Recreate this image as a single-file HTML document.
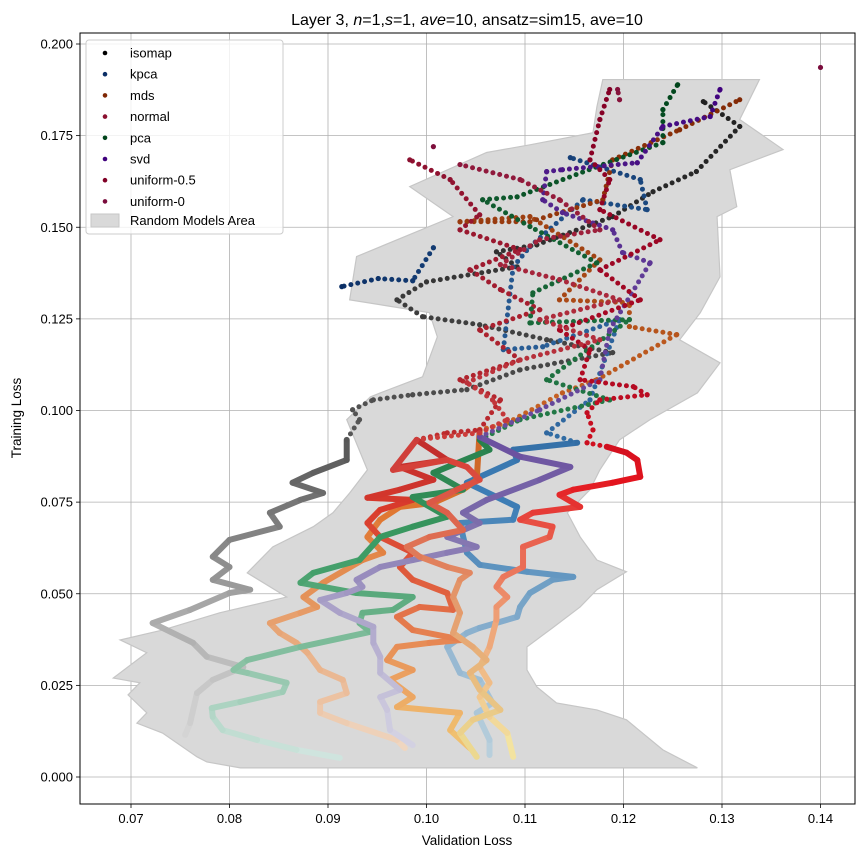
<!DOCTYPE html>
<html><head><meta charset="utf-8">
<style>
html,body{margin:0;padding:0;background:#fff;}
svg{display:block;font-family:"Liberation Sans","DejaVu Sans",sans-serif;}
</style></head>
<body>
<svg id="chart" width="863" height="857" viewBox="0 0 863 857">
<rect x="0" y="0" width="863" height="857" fill="#fff"/>
<g id="gridg"></g>
<g id="areag"></g>
<g id="seriesg"></g>
<rect x="80" y="33" width="775" height="771" fill="none" stroke="#000" stroke-width="1"/>
<g id="ticksg"></g>
<text x="467" y="25" text-anchor="middle" font-size="16">Layer 3, <tspan font-style="italic">n</tspan>=1,<tspan font-style="italic">s</tspan>=1, <tspan font-style="italic">ave</tspan>=10, ansatz=sim15, ave=10</text>
<text x="467" y="845" text-anchor="middle" font-size="13.5">Validation Loss</text>
<text x="21" y="418" text-anchor="middle" font-size="13.5" transform="rotate(-90 21 418)">Training Loss</text>
<g id="legendg"></g>
</svg>
<script>
const NS="http://www.w3.org/2000/svg";
const xTicks=[0.07,0.08,0.09,0.10,0.11,0.12,0.13,0.14];
const xTickLabels=["0.07","0.08","0.09","0.10","0.11","0.12","0.13","0.14"];
const yTicks=[0,0.025,0.05,0.075,0.1,0.125,0.15,0.175,0.2];
const yTickLabels=["0.000","0.025","0.050","0.075","0.100","0.125","0.150","0.175","0.200"];
const seriesNames=["isomap","kpca","mds","normal","pca","svd","uniform-0.5","uniform-0"];
const isomapX=[.0755,.0760,.0767,.0783,.0814,.0777,.0763,.0722,.0760,.0800,.0821,.0783,.0800,.0783,.0800,.0851,.0841,.0872,.0895,.0864,.0885,.0919,.0919,.0932,.0925,.0946,.0986,.1041,.1095,.1189,.1122,.1054,.0996,.0970,.1000,.1092,.1071,.1112,.1189,.1230,.1274,.1318,.1281];
const isomapY=[.0115,.0147,.0229,.0265,.0300,.0328,.0366,.0420,.0456,.0502,.0511,.0538,.0573,.0601,.0647,.0683,.0721,.0756,.0775,.0803,.0830,.0865,.0920,.0975,.1002,.1029,.1043,.1057,.1111,.1158,.1193,.1234,.1256,.1302,.1351,.1392,.1433,.1452,.1529,.1597,.1652,.1775,.1843];
const kpcaX=[.1064,.1064,.1051,.1067,.1054,.1034,.1021,.1041,.1054,.1092,.1095,.1105,.1128,.1149,.1102,.1054,.1041,.1034,.1088,.1092,.1041,.1092,.1088,.1153,.1122,.1166,.1196,.1118,.1078,.1088,.1105,.1159,.1224,.1217,.1146,.1007,.0986,.0951,.0914];
const kpcaY=[.0060,.0101,.0175,.0202,.0265,.0284,.0355,.0393,.0407,.0437,.0464,.0502,.0538,.0546,.0560,.0579,.0612,.0693,.0702,.0737,.0803,.0865,.0893,.0912,.0939,.1029,.1248,.1174,.1166,.1392,.1447,.1575,.1548,.1630,.1690,.1444,.1354,.1360,.1338];
const mdsX=[.0978,.0970,.0919,.0892,.0892,.0919,.0915,.0892,.0879,.0868,.0851,.0841,.0872,.0889,.0875,.0895,.0935,.0956,.0940,.0953,.0973,.1007,.1037,.1051,.1054,.1082,.1138,.1173,.1254,.1206,.1206,.1135,.1176,.1105,.1034,.1105,.1179,.1189,.1257,.1318];
const mdsY=[.0079,.0101,.0147,.0175,.0205,.0229,.0265,.0292,.0339,.0366,.0393,.0420,.0448,.0464,.0491,.0530,.0592,.0612,.0655,.0702,.0737,.0748,.0784,.0811,.0947,.0966,.1048,.1084,.1207,.1229,.1294,.1302,.1411,.1529,.1515,.1515,.1575,.1684,.1766,.1848];
const normalX=[.1044,.1024,.1034,.0970,.0986,.0963,.0986,.0960,.0970,.1003,.1037,.0986,.0970,.0993,.1027,.1021,.0986,.0973,.0986,.0953,.0940,.0953,.0986,.0940,.0973,.1007,.0973,.1021,.0990,.1021,.1054,.1075,.1034,.1095,.1054,.1115,.1075,.1044,.1095,.1034,.1054,.1024,.0983];
const normalY=[.0079,.0128,.0175,.0191,.0218,.0265,.0292,.0319,.0355,.0366,.0374,.0401,.0437,.0464,.0456,.0502,.0538,.0573,.0612,.0655,.0693,.0729,.0756,.0762,.0784,.0811,.0846,.0865,.0920,.0939,.0947,.1029,.1084,.1138,.1220,.1275,.1330,.1384,.1439,.1493,.1534,.1630,.1684];
const pcaX=[.0912,.0868,.0828,.0793,.0783,.0782,.0811,.0854,.0858,.0818,.0804,.0818,.0872,.0943,.0932,.0935,.0966,.0986,.0929,.0872,.0885,.0932,.0953,.0986,.1021,.0986,.1037,.1007,.1064,.1054,.1095,.1186,.1122,.1206,.1105,.1108,.1173,.1105,.1057,.1092,.1173,.1240,.1240,.1255];
const pcaY=[.0052,.0074,.0101,.0128,.0164,.0188,.0205,.0232,.0257,.0284,.0292,.0319,.0355,.0396,.0420,.0448,.0456,.0491,.0502,.0530,.0557,.0592,.0655,.0683,.0710,.0764,.0784,.0830,.0893,.0920,.0975,.1029,.1084,.1248,.1239,.1321,.1403,.1502,.1575,.1583,.1665,.1731,.1821,.1889];
const svdX=[.0986,.0963,.0960,.0953,.0973,.0953,.0953,.0946,.0946,.0912,.0892,.0919,.0935,.0929,.0953,.0986,.1021,.1051,.1021,.1054,.1037,.1061,.1115,.1146,.1095,.1054,.1115,.1176,.1186,.1227,.1199,.1189,.1138,.1118,.1122,.1138,.1214,.1240,.1288,.1298];
const svdY=[.0087,.0128,.0183,.0218,.0238,.0284,.0328,.0366,.0410,.0448,.0483,.0502,.0519,.0538,.0573,.0592,.0612,.0628,.0655,.0693,.0721,.0756,.0811,.0846,.0874,.0928,.1002,.1084,.1220,.1403,.1431,.1493,.1540,.1575,.1652,.1657,.1676,.1775,.1802,.1876];
const uniform05X=[.1088,.1082,.1064,.1054,.1064,.1054,.1064,.1071,.1071,.1082,.1071,.1078,.1098,.1098,.1125,.1128,.1095,.1108,.1156,.1135,.1149,.1189,.1217,.1214,.1203,.1183,.1163,.1169,.1163,.1176,.1224,.1210,.1156,.1166,.1135,.1217,.1176,.1237,.1176,.1186,.1166,.1176,.1186];
const uniform05Y=[.0055,.0120,.0164,.0218,.0257,.0300,.0355,.0429,.0464,.0491,.0519,.0546,.0573,.0628,.0655,.0683,.0702,.0721,.0737,.0770,.0784,.0803,.0819,.0865,.0885,.0901,.0912,.0947,.0994,.1029,.1043,.1065,.1084,.1166,.1220,.1302,.1384,.1466,.1548,.1630,.1684,.1794,.1876];
const uniform0X=[.1051,.1034,.1047,.1075,.1054,.1044,.1061,.1047,.1027,.1034,.1027,.1034,.1044,.1021,.0993,.0980,.1003,.1037,.1021,.1003,.1031,.1054,.1041,.1021,.0966,.0990,.1054,.1082,.1067,.1041,.1095,.1176,.1115,.1196,.1135,.1075,.1115,.1176,.1135,.1095,.1034,.1196,.1194,.1007,.1400];
const uniform0Y=[.0055,.0120,.0156,.0183,.0238,.0284,.0319,.0355,.0393,.0448,.0491,.0538,.0557,.0573,.0601,.0628,.0655,.0674,.0721,.0748,.0784,.0811,.0846,.0865,.0838,.0920,.0939,.0975,.1029,.1076,.1138,.1193,.1248,.1302,.1357,.1398,.1466,.1493,.1575,.1630,.1671,.1848,.1876,.1720,.1936];
const areaRightX=[.1275,.1240,.1203,.1173,.1132,.1112,.1102,.1102,.1128,.1156,.1173,.1203,.1173,.1156,.1143,.1166,.1176,.1196,.1227,.1275,.1298,.1257,.1278,.1298,.1295,.1315,.1308,.1362,.1318,.1338];
const areaRightY=[.0025,.0074,.0156,.0183,.0202,.0246,.0292,.0355,.0407,.0464,.0511,.0560,.0592,.0655,.0721,.0784,.0838,.0920,.0975,.1048,.1130,.1193,.1267,.1365,.1529,.1556,.1657,.1712,.1794,.1903];
const areaLeftX=[.1179,.1173,.1169,.1105,.1061,.0983,.1027,.0929,.0922,.1003,.1011,.0996,.0953,.0943,.0919,.0940,.0922,.0905,.0885,.0844,.0818,.0858,.0790,.0732,.0689,.0716,.0682,.0709,.0697,.0716,.0706,.0732,.0767,.0777,.0811];
const areaLeftY=[.1903,.1829,.1758,.1725,.1704,.1611,.1529,.1420,.1302,.1267,.1201,.1092,.1048,.1037,.0975,.0838,.0775,.0721,.0683,.0628,.0557,.0491,.0448,.0401,.0374,.0339,.0270,.0257,.0224,.0175,.0147,.0120,.0055,.0041,.0025];

const X0=80,X1=855,Y0=33,Y1=804;
function sx(v){return 131+(v-0.07)*9850;}
function sy(v){return 777-v*3665;}
function mk(tag,attrs,parent){const e=document.createElementNS(NS,tag);for(const k in attrs)e.setAttribute(k,attrs[k]);parent.appendChild(e);return e;}

const gridg=document.getElementById('gridg'),ticksg=document.getElementById('ticksg');
xTicks.forEach((v,i)=>{
  const x=sx(v);
  const g=mk('line',{x1:x,x2:x,y1:Y0,y2:Y1,stroke:'#b0b0b0','stroke-width':0.8},gridg);
  
  
  const t=mk('line',{x1:x,x2:x,y1:Y1,y2:Y1+4,stroke:'#000','stroke-width':0.8},ticksg);
  
  
  const l=mk('text',{x:x,y:Y1+19,'text-anchor':'middle','font-size':13},ticksg);
  l.textContent=xTickLabels[i];
  
  
});
yTicks.forEach((v,i)=>{
  const y=sy(v);
  const g=mk('line',{x1:X0,x2:X1,y1:y,y2:y,stroke:'#b0b0b0','stroke-width':0.8},gridg);
  
  
  const t=mk('line',{x1:X0-4,x2:X0,y1:y,y2:y,stroke:'#000','stroke-width':0.8},ticksg);
  
  
  const l=mk('text',{x:X0-7,y:y+4.5,'text-anchor':'end','font-size':13},ticksg);
  l.textContent=yTickLabels[i];
  
  
});

(function(){
  const pts=[];
  for(let i=0;i<areaRightX.length;i++)pts.push(sx(areaRightX[i])+','+sy(areaRightY[i]));
  for(let i=0;i<areaLeftX.length;i++)pts.push(sx(areaLeftX[i])+','+sy(areaLeftY[i]));
  const p=mk('polygon',{points:pts.join(' '),fill:'#d9d9d9',stroke:'#c6c6c6','stroke-width':1.2},document.getElementById('areag'));
  
  
})();

function hex(c){return [parseInt(c.slice(1,3),16),parseInt(c.slice(3,5),16),parseInt(c.slice(5,7),16)];}
function grad(stops,t){
  const n=stops.length-1;const f=Math.min(n-1e-9,t*n);const i=Math.floor(f);const u=f-i;
  const a=hex(stops[i]),b=hex(stops[i+1]);
  return 'rgb('+a.map((v,k)=>Math.round(v+(b[k]-v)*u)).join(',')+')';
}
const seriesX=[isomapX,kpcaX,mdsX,normalX,pcaX,svdX,uniform05X,uniform0X];
const seriesY=[isomapY,kpcaY,mdsY,normalY,pcaY,svdY,uniform05Y,uniform0Y];
const seriesStops=[
 ['#d4d4d4','#5a5a5a','#202020'],
 ['#b8cfdc','#3d7db5','#0b2f66'],
 ['#efd6c0','#e0762f','#7f2704'],
 ['#f0c070','#d93a2c','#8b1030'],
 ['#cfe4de','#3a9a62','#00441b'],
 ['#d3d1e2','#7a6aaa','#3f007d'],
 ['#f3e3a0','#e3141e','#800026'],
 ['#ecd890','#d9443a','#7a0c3c']
];
const legendColors=['#000000','#0b2f66','#7f2704','#8b1030','#00441b','#3f007d','#800026','#7a0c3c'];
const sg=document.getElementById('seriesg');
seriesNames.forEach((name,si)=>{
  const g=mk('g',{},sg);
  
  
  const xs=seriesX[si],ys=seriesY[si],n=xs.length;
  for(let i=0;i<n-1;i++){
    const x1=sx(xs[i]),y1=sy(ys[i]),x2=sx(xs[i+1]),y2=sy(ys[i+1]);
    const d=Math.hypot(x2-x1,y2-y1);
    if(d>130)continue;
    const c=grad(seriesStops[si],i/(n-1));
    const attrs={x1:x1,y1:y1,x2:x2,y2:y2,stroke:c,'stroke-linecap':'round'};
    if(ys[i]<0.09&&d<80){attrs['stroke-width']=6;}
    else{attrs['stroke-width']=5;attrs['stroke-dasharray']='0 7';}
    const s=mk('line',attrs,g);
    
    
  }
  for(let i=0;i<n;i++){
    const c=grad(seriesStops[si],i/(n-1));
    const p=mk('circle',{cx:sx(xs[i]),cy:sy(ys[i]),r:2.6,fill:c},g);
    
    
  }
});

(function(){
  const lg=document.getElementById('legendg');
  const box=mk('rect',{x:86,y:40,width:197,height:194,rx:3,fill:'#fff','fill-opacity':0.8,stroke:'#ccc','stroke-width':1},lg);
  
  
  seriesNames.forEach((name,i)=>{
    const y=53+i*21.2;
    const e=mk('g',{},lg);
    
    
    mk('circle',{cx:105,cy:y,r:2.3,fill:legendColors[i]},e);
    const t=mk('text',{x:130,y:y+4.5,'font-size':13},e);
    t.textContent=name;
  });
  const e=mk('g',{},lg);
  
  
  mk('rect',{x:91,y:214,width:28,height:13,fill:'#d9d9d9',stroke:'#c6c6c6'},e);
  const t=mk('text',{x:130,y:225,'font-size':13},e);
  t.textContent='Random Models Area';
})();
</script>
</body></html>
